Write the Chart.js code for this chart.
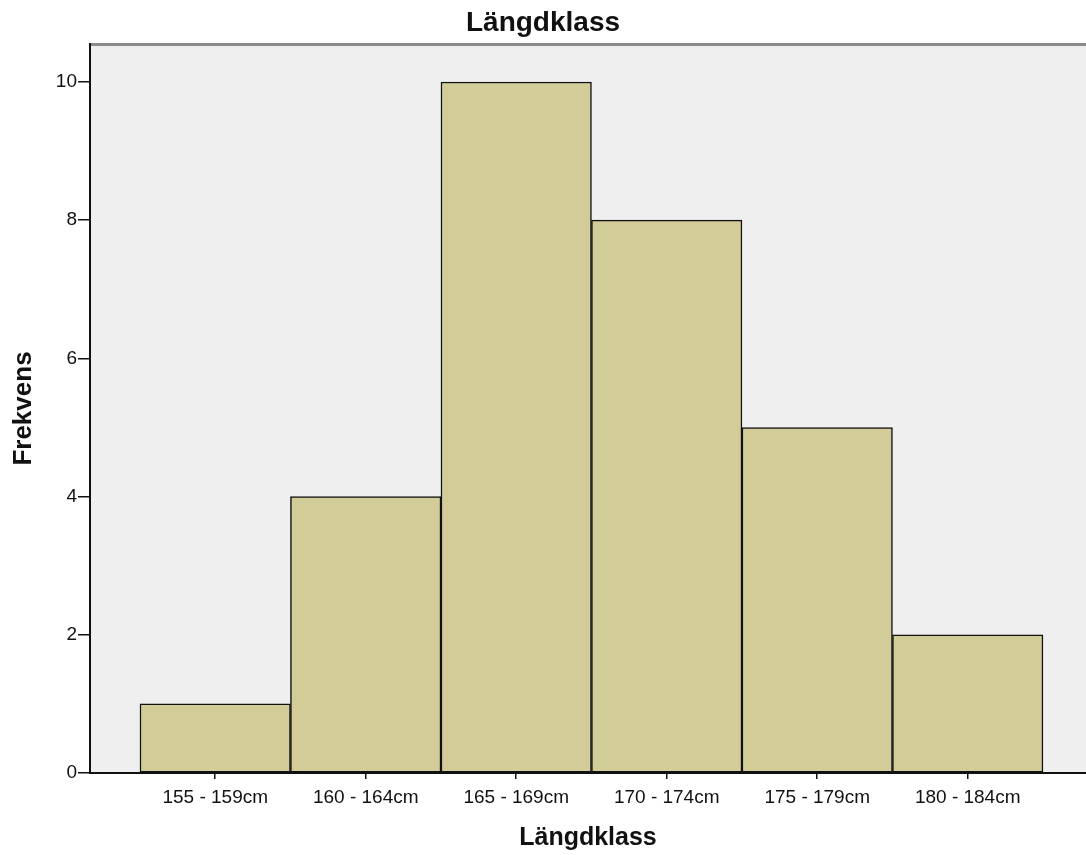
<!DOCTYPE html>
<html lang="sv">
<head>
  <meta charset="UTF-8">
  <title>Längdklass</title>
  <style>
    body { margin: 0; background: #fff; }
    .wrap { width: 1086px; height: 855px; }
  </style>
</head>
<body>
  <div class="wrap"><canvas id="chart"></canvas></div>
  <script src="https://cdn.jsdelivr.net/npm/chart.js@4.4.1/dist/chart.umd.min.js"></script>
  <script>
    // data
    const categories = ['155 - 159cm', '160 - 164cm', '165 - 169cm', '170 - 174cm', '175 - 179cm', '180 - 184cm'];
    const frequencies = [1, 4, 10, 8, 5, 2];
    const yTickValues = [0, 2, 4, 6, 8, 10];

    const font = "'Liberation Sans', Arial, sans-serif";

    // grey plot background + top frame line
    const plotBg = {
      id: 'plotBg',
      beforeDraw(chart) {
        const { ctx, chartArea: a } = chart;
        ctx.save();
        ctx.fillStyle = '#efefef';
        ctx.fillRect(a.left, a.top, a.right - a.left, a.bottom - a.top);
        ctx.strokeStyle = '#8a8a8a';
        ctx.lineWidth = 3;
        ctx.beginPath();
        ctx.moveTo(a.left, a.top + 0.5);
        ctx.lineTo(a.right, a.top + 0.5);
        ctx.stroke();
        ctx.restore();
      }
    };

    new Chart(document.getElementById('chart'), {
      type: 'bar',
      data: {
        datasets: [{
          label: 'Frekvens',
          data: frequencies.map((v, i) => ({ x: i, y: v })),
          backgroundColor: '#d2cd98',
          borderColor: '#111',
          borderWidth: 1.5,
          borderSkipped: false,
          categoryPercentage: 1,
          barPercentage: 1
        }]
      },
      options: {
        responsive: true,
        maintainAspectRatio: false,
        animation: false,
        layout: { padding: 0 },
        plugins: {
          legend: { display: false },
          tooltip: { enabled: false },
          title: {
            display: true,
            text: 'Längdklass',
            color: '#111',
            font: { family: font, size: 28, weight: 'bold' },
            padding: { top: 6.6, bottom: 3.8 }
          }
        },
        scales: {
          x: {
            type: 'linear',
            offset: false,
            min: -0.832,
            max: 5.786,
            afterBuildTicks: (axis) => { axis.ticks = categories.map((c, i) => ({ value: i })); },
            afterFit: (axis) => { axis.height = 82; },
            ticks: {
              callback: (v) => categories[v] || '',
              color: '#111',
              font: { family: font, size: 19 },
              padding: 7,
              maxRotation: 0,
              autoSkip: false
            },
            grid: { display: true, offset: false, drawOnChartArea: false, drawTicks: true, tickLength: 6, color: '#111', lineWidth: 1.5 },
            border: { display: true, color: '#111', width: 2 },
            title: {
              display: true,
              text: 'Längdklass',
              color: '#111',
              font: { family: font, size: 25, weight: 'bold' },
              padding: { top: 2, bottom: 2 }
            }
          },
          y: {
            min: 0,
            max: 10.55,
            afterBuildTicks: (axis) => { axis.ticks = yTickValues.map(v => ({ value: v })); },
            afterFit: (axis) => { axis.width = 90; },
            ticks: {
              color: '#111',
              font: { family: font, size: 19 },
              padding: 1
            },
            grid: { display: true, drawOnChartArea: false, drawTicks: true, tickLength: 12, color: '#111', lineWidth: 1.5 },
            border: { display: true, color: '#111', width: 2 },
            title: {
              display: true,
              text: 'Frekvens',
              color: '#111',
              font: { family: font, size: 26, weight: 'bold' },
              padding: { top: 8.4, bottom: 0 }
            }
          }
        }
      },
      plugins: [plotBg]
    });
  </script>
</body>
</html>
